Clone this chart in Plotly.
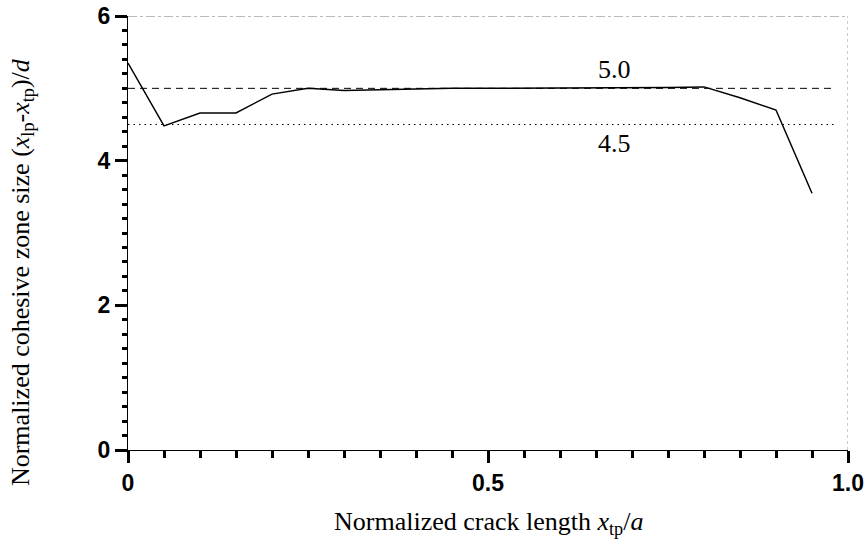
import plotly.graph_objects as go

# Normalized crack length vs normalized cohesive zone size
crack_length = [0.0, 0.05, 0.10, 0.15, 0.20, 0.25, 0.30, 0.35, 0.40, 0.45, 0.50,
                0.55, 0.60, 0.65, 0.70, 0.75, 0.80, 0.85, 0.90, 0.95]
zone_size = [5.35, 4.48, 4.66, 4.66, 4.92, 5.0, 4.97, 4.98, 5.0, 5.0, 5.0,
             5.0, 5.0, 5.0, 5.0, 5.01, 5.02, 4.87, 4.70, 3.55]

ref_upper = 5.0
ref_lower = 4.5
ref_x_end = 0.98

x_ticks = [0, 0.5, 1.0]
x_tick_text = ["0", "0.5", "1.0"]
y_ticks = [0, 2, 4, 6]
y_tick_text = ["0", "2", "4", "6"]

x_title = "Normalized crack length <i>x</i><sub>tp</sub>/<i>a</i>"
y_title = "Normalized cohesive zone size (<i>x</i><sub>lp</sub>-<i>x</i><sub>tp</sub>)/<i>d</i>"

serif = "Liberation Serif, Times New Roman, serif"
sans = "Liberation Sans, Arial, sans-serif"

fig = go.Figure()

fig.add_trace(go.Scatter(x=[0, ref_x_end], y=[ref_upper, ref_upper], mode="lines",
                         line=dict(color="black", width=1, dash="7px,5px"), hoverinfo="skip"))
fig.add_trace(go.Scatter(x=[0, ref_x_end], y=[ref_lower, ref_lower], mode="lines",
                         line=dict(color="black", width=1.2, dash="1.5px,4px"), hoverinfo="skip"))
fig.add_trace(go.Scatter(x=crack_length, y=zone_size, mode="lines",
                         line=dict(color="black", width=1.5)))

# frame lines at top and right
fig.add_shape(type="line", xref="x", yref="y", x0=0, x1=1.0, y0=6, y1=6,
              line=dict(color="#777777", width=1, dash="dashdot"))
fig.add_shape(type="line", xref="x", yref="y", x0=1.0, x1=1.0, y0=0, y1=6,
              line=dict(color="#999999", width=1, dash="dot"))

fig.add_annotation(x=0.676, y=ref_upper, text="5.0", showarrow=False, yshift=19,
                   font=dict(family=serif, size=26, color="black"))
fig.add_annotation(x=0.676, y=ref_lower, text="4.5", showarrow=False, yshift=-19,
                   font=dict(family=serif, size=26, color="black"))

# axis titles
fig.add_annotation(xref="paper", yref="paper", x=0.5, y=0, yshift=-73,
                   xanchor="center", yanchor="middle", text=x_title, showarrow=False,
                   font=dict(family=serif, size=26, color="black"))
fig.add_annotation(xref="paper", yref="paper", x=0, y=0.41, xshift=-106,
                   xanchor="center", yanchor="middle", textangle=-90, text=y_title,
                   showarrow=False, font=dict(family=serif, size=26, color="black"))

fig.update_layout(
    width=868, height=545,
    margin=dict(l=128, r=20, t=16, b=95),
    paper_bgcolor="white", plot_bgcolor="white",
    showlegend=False,
    font=dict(family=sans, size=23, color="black"),
)

fig.update_xaxes(
    range=[0, 1.0], tickvals=x_ticks, ticktext=x_tick_text,
    showgrid=False, zeroline=False, automargin=False,
    showline=True, linecolor="black", linewidth=1,
    ticks="outside", ticklen=12, tickwidth=2.5, tickcolor="black",
    minor=dict(dtick=0.05, ticks="outside", ticklen=7, tickwidth=2.5, tickcolor="black", showgrid=False),
    tickfont=dict(family=sans, size=23, color="black", weight="bold"),
)
fig.update_yaxes(
    range=[0, 6], tickvals=y_ticks, ticktext=y_tick_text,
    showgrid=False, zeroline=False, automargin=False,
    showline=True, linecolor="black", linewidth=1,
    ticks="outside", ticklen=12, tickwidth=2.5, tickcolor="black",
    minor=dict(dtick=0.2, ticks="outside", ticklen=5, tickwidth=2.5, tickcolor="black", showgrid=False),
    tickfont=dict(family=sans, size=23, color="black", weight="bold"),
)

fig.write_html("out.html")
